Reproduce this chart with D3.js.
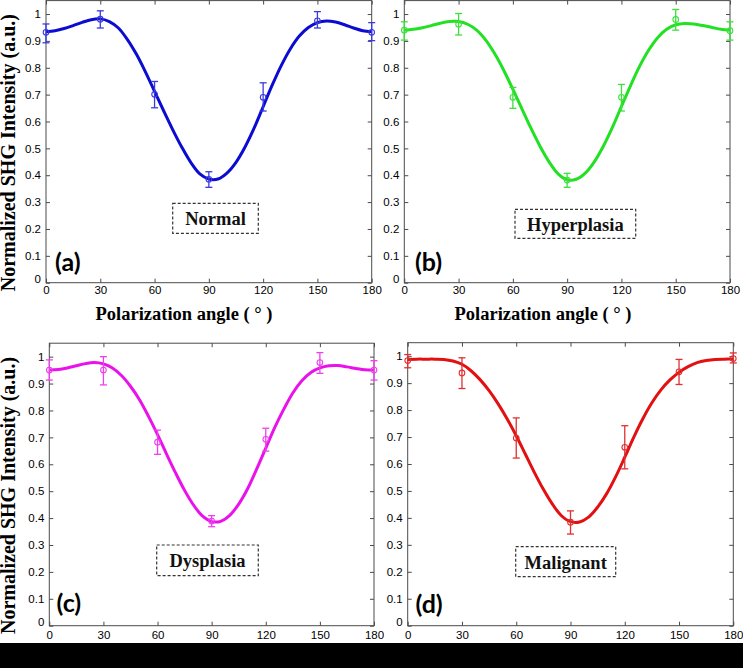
<!DOCTYPE html>
<html>
<head>
<meta charset="utf-8">
<script src="https://cdn.jsdelivr.net/npm/d3@7"></script>
<style>
html,body{margin:0;padding:0;background:#fff;}
svg{display:block;}
</style>
</head>
<body>
<svg id="chart" width="743" height="668"></svg>
<script>
// ---------- DATA ----------
const panelIds = ["a", "b", "c", "d"];
const tissueNames = ["Normal", "Hyperplasia", "Dysplasia", "Malignant"];
const xTicks = [0, 30, 60, 90, 120, 150, 180];
const yTicks = [0, 0.1, 0.2, 0.3, 0.4, 0.5, 0.6, 0.7, 0.8, 0.9, 1];
const xLabel = "Polarization angle ( ° )";
const yLabel = "Normalized SHG Intensity (a.u.)";

// measured points (angle, mean, lower end, upper end of error bar)
const angles = [0, 30, 60, 90, 120, 150, 180];
const normalMean  = [0.932, 0.981, 0.701, 0.385, 0.690, 0.975, 0.932];
const normalLow   = [0.893, 0.948, 0.651, 0.355, 0.639, 0.948, 0.901];
const normalHigh  = [0.963, 1.012, 0.749, 0.413, 0.744, 1.009, 0.968];
const hyperMean   = [0.940, 0.962, 0.690, 0.382, 0.690, 0.980, 0.938];
const hyperLow    = [0.903, 0.922, 0.649, 0.355, 0.639, 0.940, 0.903];
const hyperHigh   = [0.971, 1.002, 0.727, 0.407, 0.738, 1.017, 0.971];
const dysMean     = [0.950, 0.950, 0.682, 0.389, 0.693, 0.978, 0.950];
const dysLow      = [0.913, 0.895, 0.637, 0.368, 0.649, 0.938, 0.913];
const dysHigh     = [0.988, 1.000, 0.727, 0.409, 0.734, 1.015, 0.985];
const malMean     = [0.984, 0.938, 0.696, 0.384, 0.662, 0.942, 0.991];
const malLow      = [0.957, 0.880, 0.622, 0.340, 0.582, 0.895, 0.975];
const malHigh     = [1.006, 0.994, 0.771, 0.426, 0.742, 0.988, 1.012];

// fitted curves, read every 5 degrees
const curveAngles = [0,5,10,15,20,25,30,35,40,45,50,55,60,65,70,75,80,85,90,95,100,105,110,115,120,125,130,135,140,145,150,155,160,165,170,175,180];
const normalFit = [0.934,0.938,0.946,0.957,0.969,0.979,0.982,0.972,0.948,0.905,0.850,0.784,0.712,0.640,0.570,0.505,0.448,0.405,0.386,0.386,0.408,0.448,0.505,0.575,0.655,0.735,0.808,0.870,0.918,0.950,0.968,0.974,0.970,0.960,0.948,0.938,0.934];
const hyperFit  = [0.940,0.943,0.949,0.957,0.966,0.972,0.972,0.962,0.940,0.903,0.852,0.790,0.720,0.647,0.575,0.508,0.450,0.405,0.383,0.385,0.408,0.450,0.508,0.578,0.656,0.733,0.805,0.865,0.912,0.943,0.960,0.965,0.963,0.957,0.950,0.943,0.940];
const dysFit    = [0.950,0.952,0.958,0.966,0.974,0.978,0.973,0.958,0.930,0.890,0.840,0.778,0.710,0.638,0.568,0.503,0.448,0.407,0.387,0.388,0.410,0.452,0.510,0.583,0.660,0.737,0.805,0.865,0.910,0.941,0.958,0.966,0.967,0.962,0.956,0.951,0.950];
const malFit    = [0.988,0.989,0.989,0.989,0.988,0.982,0.970,0.946,0.913,0.872,0.823,0.767,0.705,0.637,0.569,0.506,0.451,0.408,0.386,0.385,0.403,0.440,0.490,0.553,0.625,0.700,0.768,0.827,0.875,0.912,0.940,0.961,0.976,0.984,0.988,0.989,0.989];

const means = [normalMean, hyperMean, dysMean, malMean];
const lows  = [normalLow, hyperLow, dysLow, malLow];
const highs = [normalHigh, hyperHigh, dysHigh, malHigh];
const fits  = [normalFit, hyperFit, dysFit, malFit];

// ---------- LAYOUT / STYLE ----------
const layout = [
  {x0: 46,    x1: 371.7, yTop: 0.6,   yBot: 282.7, box: [172.7, 203.3, 258.3, 233.3], tb: 225,   lab: [55, 271],  xl: [184, 320],  yl: true},
  {x0: 404.3, x1: 730,   yTop: 0.6,   yBot: 282.7, box: [515, 209.3, 635.7, 238.3],   tb: 231,   lab: [415, 271], xl: [543, 320],  yl: false},
  {x0: 49.3,  x1: 374,   yTop: 343.2, yBot: 625.7, box: [156.7, 545, 258.3, 575.7],   tb: 566.5, lab: [56.5, 612], xl: [187, 655.5], yl: true},
  {x0: 407.7, x1: 733.3, yTop: 342.7, yBot: 625.7, box: [515.7, 546.7, 615.7, 576.7], tb: 568.5, lab: [415.5, 613], xl: [546, 655.5], yl: false}
];
const lineColors = ["#0b0bd2", "#22e022", "#ea12ea", "#e21010"];
const barColors  = ["#3a3ae0", "#3ee03e", "#ee40ee", "#e03030"];

const svg = d3.select("#chart");
svg.append("rect").attr("width", 743).attr("height", 668).attr("fill", "#fff");

layout.forEach((L, i) => {
  const x = d3.scaleLinear().domain([0, 180]).range([L.x0, L.x1]);
  const y = d3.scaleLinear().domain([0, 1.05]).range([L.yBot, L.yTop]);
  const g = svg.append("g");

  // axes box
  g.append("rect")
    .attr("x", L.x0).attr("y", L.yTop)
    .attr("width", L.x1 - L.x0).attr("height", L.yBot - L.yTop)
    .attr("fill", "none").attr("stroke", "#4a4a4a").attr("stroke-width", 1);

  const tickFont = "'Liberation Sans', Arial, sans-serif";
  // left axis
  const yl = g.append("g").attr("transform", `translate(${L.x0},0)`)
    .call(d3.axisLeft(y).tickValues(yTicks).tickSizeInner(-4).tickSizeOuter(0).tickPadding(5)
      .tickFormat(d => d === 0 ? "0" : d === 1 ? "1" : d3.format(".1f")(d)));
  // bottom axis
  const xb = g.append("g").attr("transform", `translate(0,${L.yBot})`)
    .call(d3.axisBottom(x).tickValues(xTicks).tickSizeInner(-4).tickSizeOuter(0).tickPadding(i < 2 ? 3.5 : 5.5));
  // top & right ticks
  const xt = g.append("g").attr("transform", `translate(0,${L.yTop})`)
    .call(d3.axisTop(x).tickValues(xTicks).tickSizeInner(-4).tickSizeOuter(0).tickFormat(""));
  const yr = g.append("g").attr("transform", `translate(${L.x1},0)`)
    .call(d3.axisRight(y).tickValues(yTicks).tickSizeInner(-4).tickSizeOuter(0).tickFormat(""));
  [yl, xb, xt, yr].forEach(a => {
    a.select(".domain").remove();
    a.selectAll("line").attr("stroke", "#4a4a4a");
    a.selectAll("text").attr("font-family", tickFont).attr("font-size", 11.5).attr("fill", "#000");
  });
  yl.selectAll(".tick").filter(d => d === 0).select("text").attr("dy", "-0.05em");

  // fitted curve
  const fitData = curveAngles.map((a, k) => [a, fits[i][k]]);
  g.append("path").datum(fitData)
    .attr("fill", "none").attr("stroke", lineColors[i]).attr("stroke-width", 3)
    .attr("stroke-linejoin", "round")
    .attr("d", d3.line().x(d => x(d[0])).y(d => y(d[1])).curve(d3.curveCatmullRom));

  // error bars + markers
  const pts = angles.map((a, k) => ({a, m: means[i][k], lo: lows[i][k], hi: highs[i][k]}));
  const eb = g.append("g").attr("stroke", barColors[i]).attr("stroke-width", 1.3).attr("fill", "none");
  pts.forEach(p => {
    const cx = x(p.a);
    eb.append("line").attr("x1", cx).attr("x2", cx).attr("y1", y(p.lo)).attr("y2", y(p.hi));
    eb.append("line").attr("x1", cx - 3.5).attr("x2", cx + 3.5).attr("y1", y(p.lo)).attr("y2", y(p.lo));
    eb.append("line").attr("x1", cx - 3.5).attr("x2", cx + 3.5).attr("y1", y(p.hi)).attr("y2", y(p.hi));
    eb.append("circle").attr("cx", cx).attr("cy", y(p.m)).attr("r", 2.8).attr("stroke-width", 1.1);
  });

  // annotation box
  const [bx0, by0, bx1, by1] = L.box;
  g.append("rect").attr("x", bx0).attr("y", by0).attr("width", bx1 - bx0).attr("height", by1 - by0)
    .attr("fill", "#fff").attr("stroke", "#333").attr("stroke-width", 1.2).attr("stroke-dasharray", "3,2");
  g.append("text").attr("x", (bx0 + bx1) / 2).attr("y", L.tb)
    .attr("text-anchor", "middle").attr("font-family", "'Liberation Serif', 'Times New Roman', serif")
    .attr("font-weight", "bold").attr("font-size", 18.5).attr("fill", "#111").text(tissueNames[i]);

  // panel letter
  g.append("text").attr("x", L.lab[0]).attr("y", L.lab[1])
    .attr("font-family", "Lato, 'Open Sans', sans-serif").attr("font-weight", "bold")
    .attr("font-size", 25).attr("fill", "#000").text("(" + panelIds[i] + ")");

  // x label
  g.append("text").attr("x", L.xl[0]).attr("y", L.xl[1])
    .attr("text-anchor", "middle").attr("font-family", "'Liberation Serif', 'Times New Roman', serif")
    .attr("font-weight", "bold").attr("font-size", 18.5).attr("fill", "#000").text(xLabel);

  // y label
  if (L.yl) {
    const cy = (L.yTop + L.yBot) / 2 + 11;
    g.append("text").attr("transform", `translate(15,${cy}) rotate(-90)`)
      .attr("text-anchor", "middle").attr("font-family", "'Liberation Serif', 'Times New Roman', serif")
      .attr("font-weight", "bold").attr("font-size", 20).attr("fill", "#000").text(yLabel);
  }
});

// black band at the bottom
svg.append("rect").attr("x", 0).attr("y", 643).attr("width", 743).attr("height", 25).attr("fill", "#000");
</script>
</body>
</html>
